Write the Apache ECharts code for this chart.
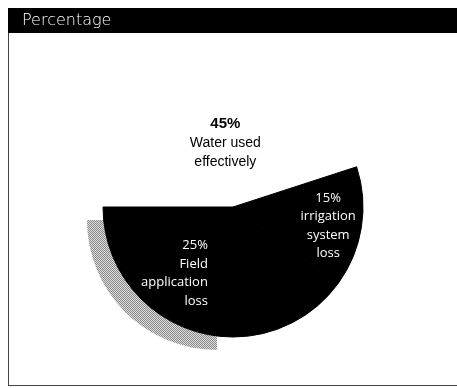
<!DOCTYPE html>
<html>
<head>
<meta charset="utf-8">
<style>
  html, body { margin: 0; padding: 0; background: #fff; }
  #chart { width: 457px; height: 388px; }
</style>
<script src="https://cdn.jsdelivr.net/npm/echarts@6/dist/echarts.min.js"></script>
</head>
<body>
<div id="chart"></div>
<script>
// Where the irrigation water goes, in percent of the total
const categories = ['Water used effectively', 'Irrigation system loss', 'Other loss', 'Field application loss'];
const shares = [45, 15, 15, 25];
const labelLines = [
  ['45%', 'Water used', 'effectively'],
  ['15%', 'irrigation', 'system', 'loss'],
  null,
  ['25%', 'Field', 'application', 'loss']
];
const headerTitle = 'Percentage';

// halftone-like grey fill for the drop shadow of the field-loss slice
function halftone() {
  const c = document.createElement('canvas');
  c.width = 4; c.height = 4;
  const g = c.getContext('2d');
  g.fillStyle = '#dcdcdc';
  g.fillRect(0, 0, 4, 4);
  g.fillStyle = '#8a8a8a';
  [[0,0],[2,0],[1,1],[3,1],[0,2],[2,2],[1,3],[3,3]].forEach(p => g.fillRect(p[0], p[1], 1, 1));
  return { image: c, repeat: 'repeat' };
}

const chart = echarts.init(document.getElementById('chart'), null, { renderer: 'canvas' });

const mainColors = ['#ffffff', '#000000', '#000000', '#000000'];
const shadowFill = halftone();

const whiteText = { color: '#fff', fontFamily: 'Open Sans, sans-serif', fontSize: 13, lineHeight: 18.5 };

const mainData = categories.map((name, i) => {
  const lines = labelLines[i];
  const dark = i > 0;
  const item = {
    name: name,
    value: shares[i],
    // dark slices get a matching outline so no seam shows between them
    itemStyle: { color: mainColors[i], borderColor: mainColors[i], borderWidth: dark ? 1 : 0 }
  };
  if (!lines) {
    item.label = { show: false };
  } else if (i === 0) {
    item.label = {
      show: true,
      formatter: '{b|' + lines[0] + '}\n' + lines.slice(1).join('\n'),
      color: '#000',
      fontFamily: 'Liberation Sans, Arial, sans-serif',
      fontSize: 14,
      lineHeight: 19,
      rich: { b: { fontWeight: 'bold', fontSize: 15, lineHeight: 19, color: '#000', fontFamily: 'Liberation Sans, Arial, sans-serif' } }
    };
  } else if (i === 3) {
    // right-aligned block of lines
    item.label = Object.assign({
      show: true,
      formatter: lines.map(s => '{r|' + s + '}').join('\n'),
      rich: { r: Object.assign({ width: 76, align: 'right' }, whiteText) }
    }, whiteText);
  } else {
    item.label = Object.assign({ show: true, formatter: lines.join('\n') }, whiteText);
  }
  return item;
});

const shadowData = categories.map((name, i) => ({
  name: name,
  value: shares[i],
  itemStyle: {
    color: i === 3 ? shadowFill : 'rgba(0,0,0,0)',
    borderWidth: 0
  }
}));

// label nudges relative to each slice's inner anchor
const labelShift = [
  { dx: 3, dy: 3 },
  { dx: 28, dy: 8 },
  { dx: 0, dy: 0 },
  { dx: -15, dy: 18 }
];

chart.setOption({
  animation: false,
  backgroundColor: '#fff',
  graphic: [
    { type: 'rect', shape: { x: 8, y: 8, width: 449, height: 25 }, style: { fill: '#000' }, z: 10 },
    { type: 'text', x: 22, y: 21, style: { text: headerTitle, fill: '#fff', font: '200 16px "DejaVu Sans", sans-serif', textVerticalAlign: 'middle' }, z: 11 },
    { type: 'line', shape: { x1: 8.5, y1: 33, x2: 8.5, y2: 386 }, style: { stroke: '#444', lineWidth: 1 }, z: 10 },
    { type: 'line', shape: { x1: 8, y1: 385.5, x2: 457, y2: 385.5 }, style: { stroke: '#444', lineWidth: 1 }, z: 10 }
  ],
  series: [
    {
      type: 'pie',
      name: 'shadow',
      silent: true,
      z: 1,
      center: [217, 220],
      radius: 130,
      startAngle: 180,
      clockwise: true,
      label: { show: false },
      labelLine: { show: false },
      emphasis: { disabled: true },
      data: shadowData
    },
    {
      type: 'pie',
      name: 'share',
      z: 2,
      center: [233, 207],
      radius: 130,
      startAngle: 180,
      clockwise: true,
      avoidLabelOverlap: false,
      label: { position: 'inside' },
      labelLine: { show: false },
      labelLayout: function (params) {
        return labelShift[params.dataIndex];
      },
      emphasis: { disabled: true },
      data: mainData
    }
  ]
});
</script>
</body>
</html>
